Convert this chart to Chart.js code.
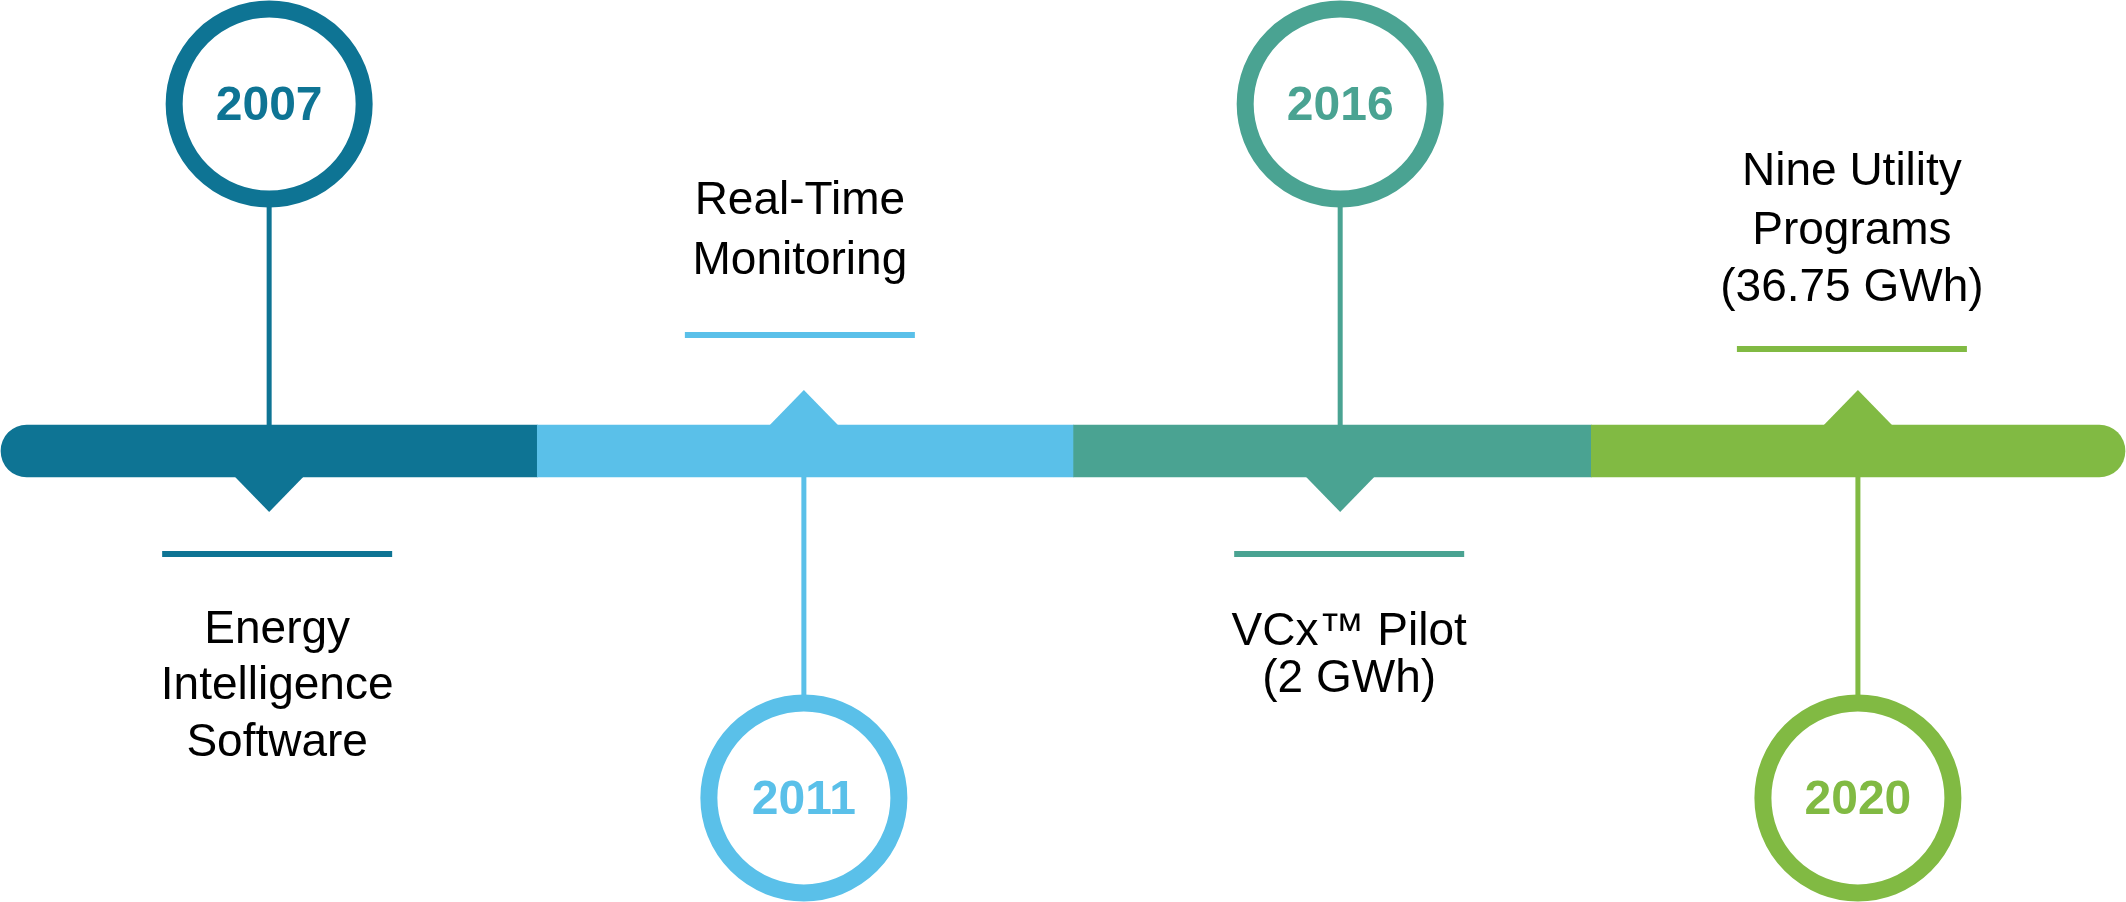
<!DOCTYPE html>
<html>
<head>
<meta charset="utf-8">
<title>Timeline</title>
<script src="https://cdn.jsdelivr.net/npm/chart.js@4.4.1/dist/chart.umd.min.js"></script>
<style>
  html, body { margin: 0; padding: 0; background: #fff; }
  #wrap { width: 2126px; height: 902px; position: relative; }
</style>
</head>
<body>
<div id="wrap"><canvas id="timeline"></canvas></div>
<script>
// Milestones
const years = ['2007', '2011', '2016', '2020'];
const milestonePos = [0.505, 1.512, 2.522, 3.497];   // position along the bar, in segment units
const milestoneSide = [1, -1, 1, -1];                // 1 = circle above the bar, -1 = below
const segmentEdges = [0, 1.01, 2.02, 2.995, 4];
const eventLabels = [
  ['Energy', 'Intelligence', 'Software'],
  ['Real-Time', 'Monitoring'],
  ['VCx™ Pilot', '(2 GWh)'],
  ['Nine Utility', 'Programs', '(36.75 GWh)'],
];

const COLORS = ['#0e7494', '#5ac0e9', '#4aa392', '#81ba43'];

// layout in pixels (offsets are measured from the bar centre)
const LAYOUT = {
  barThickness: 52,
  ringRadius: 95,
  ringWidth: 17,
  stemWidth: 5,
  notchHalf: 36,
  notchDepth: 35,
  ruleWidth: 230,
  ruleThickness: 6,
  textBaselines: [[192, 248, 305], [-237, -177], [194, 241], [-266, -207, -150]],
  ruleOffset: [103, -116, 103, -102],
  textShift: [8, -4, 9, -6],
  bodyFont: '46px "Liberation Sans", Arial, sans-serif',
  yearFont: 'bold 48px "Liberation Sans", Arial, sans-serif',
};

// notches, rules, captions and year labels
const timelineDecor = {
  id: 'timelineDecor',
  afterDatasetsDraw(chart) {
    const { ctx, scales: { x, y } } = chart;
    const barY = y.getPixelForValue(0);
    const half = LAYOUT.barThickness / 2;
    ctx.save();
    milestonePos.forEach((pos, i) => {
      const px = x.getPixelForValue(pos);
      const side = milestoneSide[i];
      const color = COLORS[i];

      // notch points away from the circle
      const edge = barY + side * half;
      const apex = edge + side * LAYOUT.notchDepth;
      ctx.fillStyle = color;
      ctx.beginPath();
      ctx.moveTo(px - LAYOUT.notchHalf, edge - side * 2);
      ctx.lineTo(px + LAYOUT.notchHalf, edge - side * 2);
      ctx.lineTo(px, apex);
      ctx.closePath();
      ctx.fill();

      // rule + caption
      const cx = px + LAYOUT.textShift[i];
      const ruleY = barY + LAYOUT.ruleOffset[i];
      ctx.fillRect(cx - LAYOUT.ruleWidth / 2, ruleY - LAYOUT.ruleThickness / 2,
                   LAYOUT.ruleWidth, LAYOUT.ruleThickness);

      ctx.fillStyle = '#000';
      ctx.font = LAYOUT.bodyFont;
      ctx.textAlign = 'center';
      ctx.textBaseline = 'alphabetic';
      eventLabels[i].forEach((line, k) => {
        ctx.fillText(line, cx, barY + LAYOUT.textBaselines[i][k]);
      });

      // year inside the ring
      ctx.fillStyle = color;
      ctx.font = LAYOUT.yearFont;
      ctx.textBaseline = 'middle';
      ctx.fillText(years[i], px, y.getPixelForValue(side) + 3);
    });
    ctx.restore();
  },
};

const segmentData = segmentEdges.slice(1).map((end, i) => ({ x: [segmentEdges[i], end], y: 0 }));
const lastSeg = segmentData.length - 1;

const stemSets = milestonePos.map((pos, i) => ({
  type: 'line',
  data: [{ x: pos, y: milestoneSide[i] }, { x: pos, y: 0 }],
  borderColor: COLORS[i],
  borderWidth: LAYOUT.stemWidth,
  pointRadius: 0,
  clip: false,
  order: 3,
}));

const ctx = document.getElementById('timeline').getContext('2d');
new Chart(ctx, {
  type: 'scatter',
  data: {
    datasets: [
      ...stemSets,
      {
        type: 'bar',
        indexAxis: 'y',
        data: segmentData,
        backgroundColor: COLORS,
        barThickness: LAYOUT.barThickness,
        borderSkipped: false,
        borderWidth: 0,
        grouped: false,
        clip: false,
        borderRadius: (c) => {
          const r = LAYOUT.barThickness / 2;
          return {
            topLeft: c.dataIndex === 0 ? r : 0,
            bottomLeft: c.dataIndex === 0 ? r : 0,
            topRight: c.dataIndex === lastSeg ? r : 0,
            bottomRight: c.dataIndex === lastSeg ? r : 0,
          };
        },
        order: 2,
      },
      {
        type: 'scatter',
        data: milestonePos.map((pos, i) => ({ x: pos, y: milestoneSide[i] })),
        pointRadius: LAYOUT.ringRadius,
        pointBorderWidth: LAYOUT.ringWidth,
        pointBackgroundColor: '#ffffff',
        pointBorderColor: COLORS,
        clip: false,
        order: 1,
      },
    ],
  },
  options: {
    responsive: true,
    maintainAspectRatio: false,
    animation: false,
    events: [],
    layout: { autoPadding: false, padding: { left: 1, right: 1, top: 0, bottom: 0 } },
    scales: {
      x: { type: 'linear', min: 0, max: 4, display: false, offset: false },
      y: { type: 'linear', min: -1.3, max: 1.3, display: false, offset: false },
    },
    plugins: { legend: { display: false }, tooltip: { enabled: false } },
  },
  plugins: [timelineDecor],
});
</script>
</body>
</html>
